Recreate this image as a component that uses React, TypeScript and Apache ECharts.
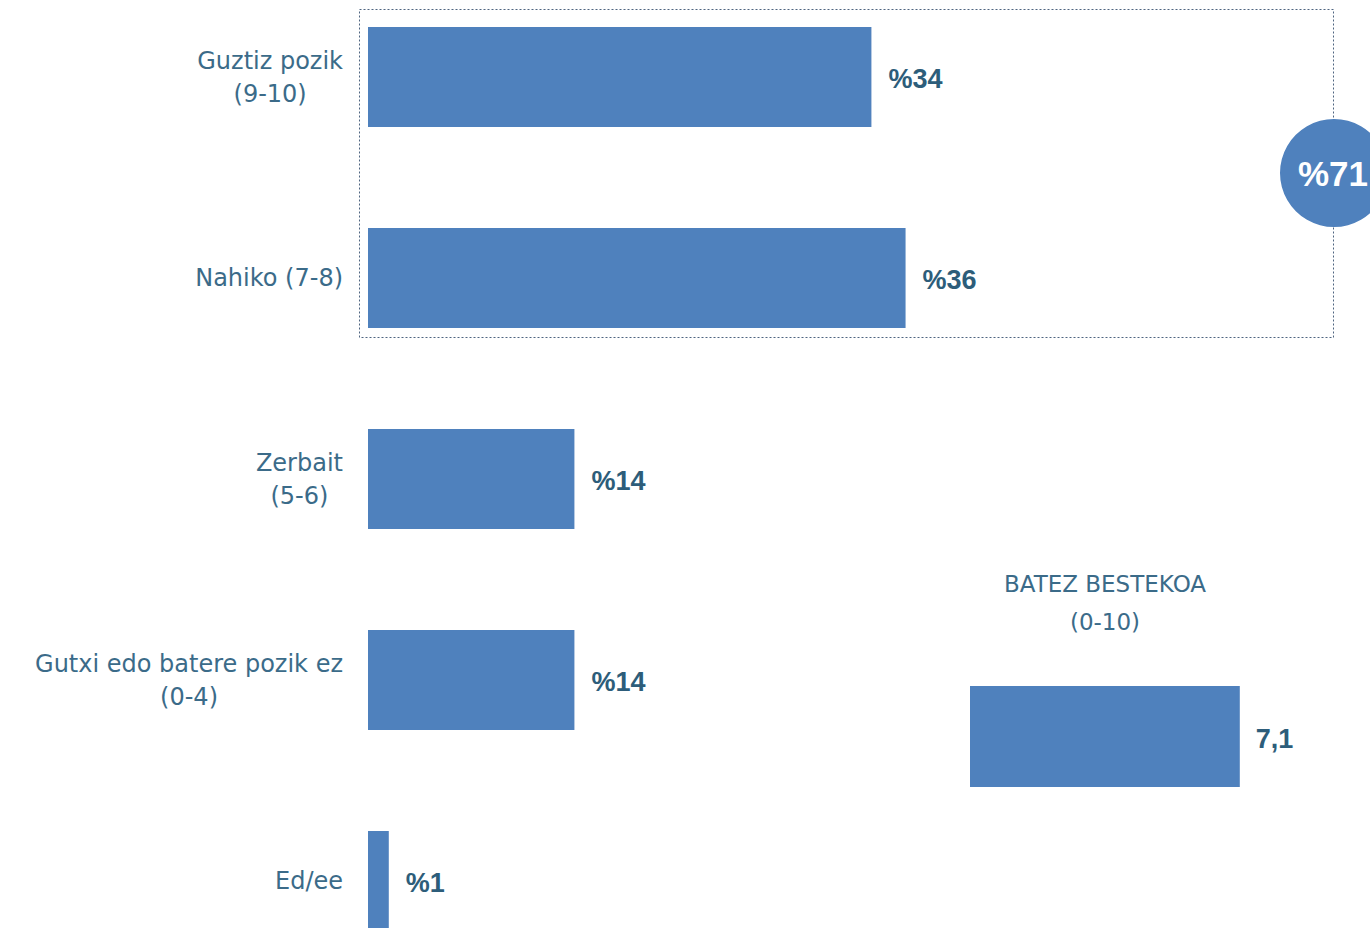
import React, { useEffect, useRef } from "react";
import * as echarts from "echarts";

const categories = ["Guztiz pozik\n(9-10)", "Nahiko (7-8)", "Zerbait\n(5-6)", "Gutxi edo batere pozik ez\n(0-4)", "Ed/ee"];
const shares = [33.9, 36.2, 13.9, 13.9, 1.4];
const combinedShare = 71;
const averageTitle = "BATEZ BESTEKOA\n(0-10)";
const averageCategory = ["Batez bestekoa"];
const averageValue = [7.1];

const BAR = "#4f81bd";
const VALUE_COLOR = "#2d5d7a";
const LABEL_COLOR = "#3b6b89";
const FONT = "'DejaVu Sans', 'Open Sans', sans-serif";
const BOLD_FONT = "'Liberation Sans', Arial, sans-serif";
const OFFSET = 24; // chart div starts above the page so the first band can begin above the viewport

export default function App() {
  const ref = useRef<HTMLDivElement>(null);
  useEffect(() => {
    document.body.style.margin = "0";
    const chart = echarts.init(ref.current!, undefined, { renderer: "svg" });
    chart.setOption({
      animation: false,
      backgroundColor: "#ffffff",
      textStyle: { fontFamily: FONT },
      grid: [
        { left: 368, top: 0.5, height: 1005, width: 891 },
        { left: 970, top: 686 + OFFSET, height: 101, width: 380 },
      ],
      xAxis: [
        { type: "value", gridIndex: 0, min: 0, max: 60, show: false },
        { type: "value", gridIndex: 1, min: 0, max: 10, show: false },
      ],
      yAxis: [
        {
          type: "category",
          gridIndex: 0,
          data: categories,
          inverse: true,
          axisLine: { show: false },
          axisTick: { show: false },
          splitLine: { show: false },
          axisLabel: {
            margin: 25,
            formatter: (v: string) => v.split("\n").map((l) => `{c|${l}}`).join("\n"),
            rich: {
              c: { align: "center", fontSize: 24, lineHeight: 33, color: LABEL_COLOR, fontFamily: FONT },
            },
          },
        },
        {
          type: "category",
          gridIndex: 1,
          data: averageCategory,
          show: false,
        },
      ],
      series: [
        {
          type: "bar",
          xAxisIndex: 0,
          yAxisIndex: 0,
          data: shares,
          barWidth: 100,
          itemStyle: { color: BAR },
          label: {
            show: true,
            position: "right",
            distance: 17,
            offset: [0, 2],
            formatter: (p: any) => "%" + Math.round(p.value),
            fontSize: 27,
            fontWeight: "bold",
            color: VALUE_COLOR,
            fontFamily: BOLD_FONT,
          },
        },
        {
          type: "bar",
          xAxisIndex: 1,
          yAxisIndex: 1,
          data: averageValue,
          barWidth: 101,
          itemStyle: { color: BAR },
          label: {
            show: true,
            position: "right",
            distance: 16,
            offset: [0, 2],
            formatter: (p: any) => Number(p.value).toFixed(1).replace(".", ","),
            fontSize: 27,
            fontWeight: "bold",
            color: VALUE_COLOR,
            fontFamily: BOLD_FONT,
          },
        },
      ],
      graphic: [
        {
          type: "rect",
          shape: { x: 359.5, y: 9.5 + OFFSET, width: 974, height: 328 },
          style: { fill: "none", stroke: "#4f6580", lineWidth: 1, lineDash: [2, 2] },
          z: 1,
        },
        {
          type: "circle",
          shape: { cx: 1334, cy: 173 + OFFSET, r: 54 },
          style: { fill: BAR },
          z: 10,
        },
        {
          type: "text",
          x: 1333,
          y: 173 + OFFSET,
          style: {
            text: "%" + combinedShare,
            fill: "#ffffff",
            fontSize: 35,
            fontWeight: "bold",
            fontFamily: BOLD_FONT,
            align: "center",
            verticalAlign: "middle",
          },
          z: 11,
        },
        {
          type: "text",
          x: 1105,
          y: 603 + OFFSET,
          style: {
            text: averageTitle,
            fill: LABEL_COLOR,
            fontSize: 23,
            lineHeight: 38,
            fontFamily: FONT,
            align: "center",
            verticalAlign: "middle",
          },
        },
      ],
    });
    return () => chart.dispose();
  }, []);
  return (
    <div
      ref={ref}
      style={{ position: "fixed", left: 0, top: -OFFSET, width: 1370, height: 928 + OFFSET + 60 }}
    />
  );
}
